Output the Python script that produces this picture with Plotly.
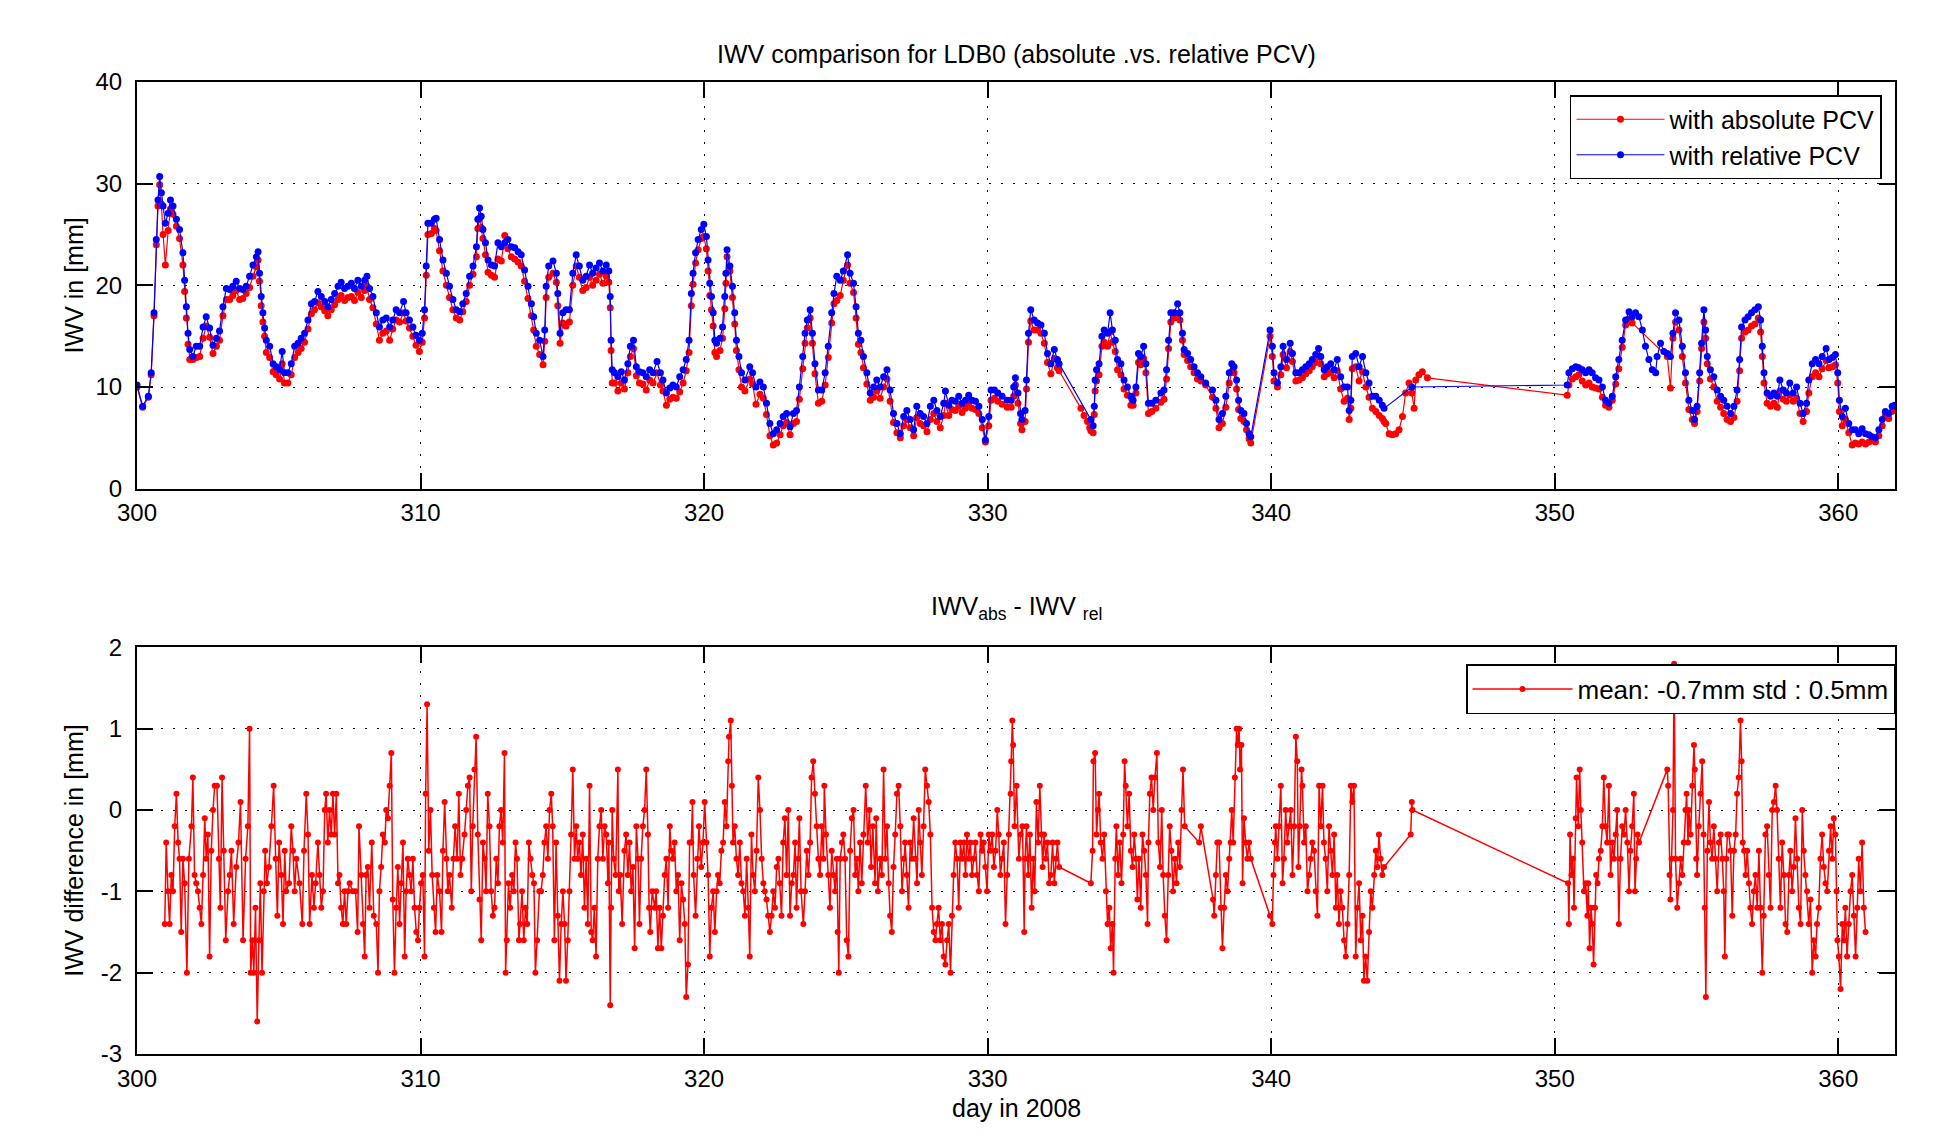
import plotly.graph_objects as go

# ---------------- top panel: IWV time series (day of year 2008) ----------------
day = [
    300.0, 300.2, 300.4, 300.5, 300.6, 300.68, 300.74, 300.8, 300.86, 300.92,
    301.0, 301.1, 301.18, 301.27, 301.39, 301.5, 301.62, 301.68, 301.74, 301.8,
    301.86, 301.97, 302.09, 302.21, 302.33, 302.44, 302.56, 302.68, 302.8, 302.91,
    303.03, 303.15, 303.27, 303.38, 303.5, 303.62, 303.73, 303.85, 303.97, 304.09,
    304.21, 304.27, 304.32, 304.38, 304.44, 304.5, 304.56, 304.68, 304.8, 304.91,
    305.03, 305.12, 305.2, 305.32, 305.44, 305.56, 305.68, 305.79, 305.91, 306.03,
    306.15, 306.26, 306.38, 306.5, 306.62, 306.73, 306.85, 306.97, 307.09, 307.2,
    307.32, 307.44, 307.56, 307.67, 307.79, 307.91, 308.03, 308.11, 308.2, 308.32,
    308.44, 308.55, 308.67, 308.79, 308.91, 309.02, 309.14, 309.26, 309.4, 309.49,
    309.61, 309.73, 309.84, 309.96, 310.06, 310.14, 310.2, 310.26, 310.38, 310.49,
    310.55, 310.67, 310.79, 310.91, 311.02, 311.14, 311.26, 311.38, 311.49, 311.61,
    311.73, 311.85, 311.97, 312.02, 312.08, 312.14, 312.2, 312.29, 312.38, 312.5,
    312.61, 312.73, 312.85, 312.97, 313.08, 313.2, 313.32, 313.44, 313.55, 313.67,
    313.79, 313.91, 313.99, 314.08, 314.2, 314.32, 314.38, 314.43, 314.52, 314.67,
    314.79, 314.84, 314.92, 315.02, 315.13, 315.25, 315.37, 315.49, 315.6, 315.72,
    315.84, 315.96, 316.07, 316.19, 316.31, 316.43, 316.55, 316.64, 316.69, 316.72,
    316.76, 316.84, 316.96, 317.08, 317.19, 317.31, 317.4, 317.51, 317.61, 317.72,
    317.84, 317.96, 318.08, 318.2, 318.34, 318.46, 318.55, 318.67, 318.79, 318.9,
    319.02, 319.14, 319.26, 319.37, 319.47, 319.55, 319.61, 319.7, 319.79, 319.9,
    319.99, 320.08, 320.14, 320.2, 320.26, 320.32, 320.38, 320.44, 320.56, 320.65,
    320.73, 320.77, 320.81, 320.91, 321.0, 321.08, 321.14, 321.23, 321.32, 321.44,
    321.61, 321.71, 321.83, 321.97, 322.09, 322.2, 322.32, 322.44, 322.56, 322.68,
    322.79, 322.91, 323.03, 323.15, 323.26, 323.36, 323.48, 323.56, 323.64, 323.74,
    323.82, 323.91, 324.03, 324.15, 324.27, 324.38, 324.5, 324.58, 324.68, 324.8,
    324.91, 325.06, 325.15, 325.27, 325.36, 325.44, 325.53, 325.62, 325.74, 325.86,
    325.98, 326.09, 326.21, 326.33, 326.45, 326.56, 326.68, 326.8, 326.92, 327.04,
    327.15, 327.27, 327.39, 327.5, 327.62, 327.74, 327.86, 327.98, 328.1, 328.21,
    328.33, 328.45, 328.51, 328.63, 328.74, 328.86, 328.98, 329.1, 329.22, 329.33,
    329.45, 329.57, 329.69, 329.81, 329.92, 330.04, 330.12, 330.24, 330.36, 330.51,
    330.69, 330.83, 330.92, 330.98, 331.07, 331.16, 331.21, 331.32, 331.37, 331.44,
    331.52, 331.64, 331.76, 331.88, 332.0, 332.11, 332.23, 332.35, 332.46, 332.52,
    333.29, 333.4, 333.52, 333.6, 333.64, 333.72, 333.76, 333.79, 333.84, 333.93,
    334.03, 334.11, 334.23, 334.32, 334.4, 334.5, 334.58, 334.7, 334.81, 334.93,
    335.05, 335.13, 335.23, 335.32, 335.4, 335.5, 335.58, 335.67, 335.79, 335.93,
    336.11, 336.22, 336.31, 336.38, 336.46, 336.58, 336.7, 336.78, 336.87, 336.93,
    337.05, 337.16, 337.28, 337.4, 337.52, 337.69, 337.93, 338.05, 338.16, 338.28,
    338.4, 338.52, 338.61, 338.69, 338.78, 338.85, 338.93, 339.04, 339.13, 339.22,
    339.28, 339.96, 340.04, 340.1, 340.22, 340.34, 340.42, 340.54, 340.67, 340.75,
    340.87, 340.98, 341.1, 341.22, 341.34, 341.45, 341.57, 341.67, 341.75, 341.87,
    341.98, 342.1, 342.22, 342.33, 342.45, 342.57, 342.69, 342.75, 342.81, 342.86,
    342.98, 343.1, 343.22, 343.34, 343.45, 343.57, 343.69, 343.81, 343.92, 343.98,
    344.04, 344.16, 344.27, 344.39, 344.51, 344.63, 344.74, 344.86, 344.96, 345.04,
    345.1, 345.21, 345.33, 345.51, 350.44, 350.5, 350.62, 350.74, 350.85, 350.97,
    351.09, 351.21, 351.32, 351.44, 351.56, 351.68, 351.79, 351.91, 352.03, 352.15,
    352.26, 352.38, 352.5, 352.62, 352.73, 352.85, 352.97, 353.09, 353.2, 353.32,
    353.44, 353.56, 353.61, 353.73, 353.85, 353.97, 354.08, 354.17, 354.26, 354.38,
    354.5, 354.61, 354.73, 354.85, 354.93, 355.02, 355.11, 355.18, 355.26, 355.32,
    355.38, 355.49, 355.61, 355.73, 355.85, 355.96, 356.08, 356.2, 356.32, 356.43,
    356.52, 356.59, 356.71, 356.82, 356.94, 357.06, 357.18, 357.26, 357.32, 357.38,
    357.49, 357.61, 357.73, 357.85, 357.94, 358.06, 358.17, 358.29, 358.41, 358.53,
    358.65, 358.76, 358.88, 358.96, 359.08, 359.2, 359.32, 359.43, 359.57, 359.67,
    359.79, 359.9, 359.98, 360.04, 360.14, 360.25, 360.37, 360.49, 360.6, 360.72,
    360.84, 360.96, 361.08, 361.19, 361.31, 361.43, 361.55, 361.66, 361.78, 361.9,
    361.99,
]

iwv_rel = [
    10.2, 8.1, 9.1, 11.4, 17.3, 24.5, 28.4, 30.7, 29.1, 27.8,
    26.1, 27.1, 28.4, 27.8, 26.5, 25.5, 23.2, 20.5, 17.9, 15.3,
    13.7, 13.0, 14.0, 14.0, 15.9, 16.9, 15.8, 14.1, 14.8, 15.5,
    17.9, 19.7, 19.6, 19.9, 20.4, 19.7, 19.6, 19.9, 20.9, 22.0,
    22.8, 23.3, 21.2, 18.9, 17.3, 15.8, 14.6, 14.0, 12.3, 12.0,
    11.7, 13.5, 11.4, 11.4, 12.3, 14.0, 14.3, 14.8, 15.3, 16.6,
    18.2, 18.4, 19.4, 18.9, 18.4, 17.9, 18.6, 19.2, 19.9, 20.3,
    19.7, 19.9, 20.2, 19.7, 20.5, 19.9, 20.5, 20.9, 19.7, 18.9,
    17.3, 15.9, 16.6, 16.8, 15.9, 16.6, 17.6, 17.3, 18.4, 17.3,
    16.6, 15.9, 15.1, 14.6, 15.3, 17.6, 21.9, 26.1, 26.1, 26.5,
    26.6, 24.5, 22.5, 21.2, 19.9, 18.6, 17.6, 17.4, 18.2, 19.2,
    20.9, 21.9, 23.8, 26.5, 27.6, 26.8, 25.5, 24.2, 22.5, 22.0,
    21.9, 24.2, 23.8, 24.2, 24.5, 23.8, 23.7, 23.3, 23.0, 21.5,
    19.9, 18.2, 16.9, 15.3, 14.6, 13.0, 15.6, 19.9, 21.9, 22.4,
    21.2, 19.2, 15.3, 17.3, 17.6, 17.6, 21.2, 23.0, 21.9, 20.5,
    20.9, 22.0, 21.2, 21.7, 22.2, 21.4, 22.0, 21.4, 18.9, 14.6,
    11.7, 11.4, 11.0, 11.5, 10.7, 12.3, 14.0, 14.6, 12.0, 11.5,
    11.4, 11.0, 11.7, 11.4, 12.5, 11.4, 10.7, 9.4, 9.9, 10.2,
    10.0, 11.0, 11.7, 12.7, 14.6, 19.2, 21.2, 23.2, 24.5, 25.5,
    26.0, 24.8, 22.5, 20.2, 18.9, 17.3, 14.6, 14.3, 14.8, 15.9,
    18.9, 21.2, 23.5, 21.9, 19.9, 17.3, 14.6, 13.0, 11.4, 10.7,
    12.0, 11.4, 10.0, 10.5, 10.0, 8.4, 6.4, 5.4, 5.8, 6.4,
    7.1, 7.4, 6.1, 7.4, 7.7, 10.0, 13.0, 15.3, 16.6, 17.6,
    15.3, 12.3, 9.7, 9.7, 11.4, 14.0, 17.3, 19.2, 20.9, 20.5,
    21.4, 23.0, 21.2, 20.2, 17.9, 15.3, 14.6, 13.0, 11.4, 9.4,
    10.0, 10.7, 10.0, 11.0, 11.7, 9.7, 7.4, 6.4, 5.4, 7.1,
    7.7, 6.8, 5.8, 8.1, 7.4, 7.1, 6.4, 8.1, 8.7, 7.7,
    7.1, 8.4, 9.6, 8.2, 8.7, 8.6, 9.1, 8.4, 8.7, 9.2,
    8.7, 8.6, 8.1, 6.8, 4.8, 7.1, 9.7, 9.7, 9.4, 9.1,
    8.7, 8.7, 10.0, 10.9, 9.4, 7.4, 6.8, 7.7, 10.7, 15.3,
    17.6, 16.6, 16.3, 16.1, 15.3, 13.3, 12.3, 13.7, 12.7, 12.3,
    None, None, None, None, 6.8, 6.2, 8.1, 10.7, 11.7, 12.3,
    15.0, 15.6, 15.3, 17.3, 15.6, 14.6, 12.7, 12.3, 10.7, 10.0,
    9.1, 8.7, 10.0, 13.3, 13.0, 14.0, 12.3, 8.4, 8.4, 8.7,
    9.4, 9.7, 11.7, 14.6, 17.3, 17.3, 18.2, 17.3, 15.3, 13.7,
    13.3, 12.7, 12.0, 11.4, 11.0, 10.4, 9.7, 8.7, 6.8, 7.4,
    9.1, 11.4, 12.3, 12.0, 10.7, 8.7, 7.7, 7.4, 6.4, 5.4,
    5.1, 15.6, 14.0, 11.4, 10.4, 12.0, 14.0, 12.7, 14.3, 13.3,
    11.4, 11.4, 11.7, 12.0, 12.3, 12.7, 13.2, 13.8, 13.0, 11.7,
    12.0, 12.3, 11.7, 12.7, 11.0, 10.0, 10.0, 7.7, 8.7, 13.0,
    13.3, 12.0, 13.0, 11.4, 10.4, 9.1, 9.1, 8.7, 8.2, 7.9,
    None, None, None, None, None, None, None, None, 10.0, None,
    None, None, None, None, 10.2, 11.4, 11.8, 12.0, 11.9, 11.7,
    11.4, 11.7, 11.4, 10.9, 10.7, 10.0, 8.7, 8.4, 9.1, 11.0,
    12.7, 14.6, 16.6, 17.4, 16.9, 17.3, 16.9, 15.6, 14.0, 12.7,
    11.7, 11.4, 13.0, 14.3, 13.5, 13.3, 13.0, 15.3, 17.3, 16.6,
    14.0, 11.4, 8.7, 7.7, 6.8, 8.1, 11.4, 14.3, 17.6, 15.6,
    13.0, 11.7, 11.0, 9.7, 9.1, 8.7, 8.1, 7.4, 8.1, 9.7,
    12.7, 15.9, 16.6, 16.9, 17.3, 17.6, 17.9, 16.6, 14.0, 11.4,
    9.4, 9.1, 9.4, 9.1, 10.7, 9.7, 9.4, 10.4, 9.4, 10.0,
    8.4, 7.4, 8.4, 10.7, 12.3, 12.7, 12.3, 13.0, 13.8, 12.7,
    12.9, 13.2, 11.4, 8.7, 7.1, 7.9, 6.4, 5.8, 5.8, 5.4,
    5.9, 5.4, 5.3, 5.1, 5.0, 5.8, 6.8, 7.6, 7.4, 8.1,
    8.2,
]

iwv_abs = [
    10.0, 8.0, 9.0, 11.2, 17.0, 24.0, 27.8, 29.9, 28.0, 25.0,
    22.0, 25.4, 27.5, 27.0, 25.8, 24.6, 22.0, 19.4, 16.8, 14.2,
    12.7, 12.7, 12.9, 13.0, 14.8, 16.0, 14.9, 13.3, 14.0, 14.6,
    17.0, 18.6, 18.6, 19.0, 19.5, 18.6, 18.7, 19.2, 19.8, 20.9,
    21.8, 22.5, 20.4, 18.0, 16.4, 15.0, 13.4, 12.9, 11.5, 11.2,
    10.8, 12.3, 10.4, 10.4, 11.2, 12.9, 13.4, 13.8, 14.4, 15.7,
    17.2, 17.6, 18.3, 17.9, 17.5, 17.0, 17.6, 18.1, 18.6, 19.0,
    18.5, 18.8, 18.9, 18.5, 19.3, 18.8, 19.5, 19.9, 18.6, 17.8,
    16.2, 14.6, 15.3, 15.5, 14.6, 15.7, 16.6, 16.4, 17.3, 16.5,
    15.8, 15.0, 14.1, 13.5, 14.4, 16.8, 21.0, 25.0, 25.1, 25.6,
    25.4, 23.4, 21.4, 20.0, 18.8, 17.6, 16.8, 16.6, 17.4, 18.4,
    20.0, 21.1, 22.8, 25.6, 26.6, 25.7, 24.6, 23.0, 21.3, 21.0,
    20.8, 22.6, 22.4, 24.9, 23.6, 22.8, 22.6, 22.3, 21.9, 20.4,
    18.7, 17.0, 15.6, 14.0, 13.2, 12.2, 14.5, 18.8, 20.8, 21.2,
    20.3, 18.0, 14.3, 16.3, 16.0, 16.4, 20.0, 21.9, 20.8, 19.5,
    19.8, 20.8, 20.0, 20.5, 21.1, 20.2, 20.9, 20.3, 17.8, 13.6,
    10.4, 10.4, 9.6, 10.4, 9.8, 11.4, 13.0, 13.8, 11.1, 10.4,
    10.3, 9.7, 10.7, 10.4, 11.4, 10.2, 9.6, 8.2, 8.8, 9.0,
    8.9, 9.5, 10.4, 11.6, 13.4, 18.0, 20.1, 22.2, 23.5, 24.6,
    24.8, 23.6, 21.4, 19.0, 17.6, 16.0, 13.4, 13.0, 13.6, 14.8,
    17.7, 20.2, 22.8, 21.4, 18.8, 16.2, 13.6, 11.7, 10.0, 9.6,
    10.8, 10.3, 8.3, 9.3, 8.9, 7.3, 5.2, 4.3, 4.5, 5.3,
    6.2, 6.5, 5.3, 6.4, 6.6, 8.8, 11.8, 14.3, 15.8, 16.8,
    14.3, 11.3, 8.4, 8.6, 10.2, 12.9, 16.3, 18.2, 18.5, 19.0,
    20.5, 22.0, 20.2, 19.3, 16.8, 14.2, 13.4, 11.9, 10.3, 8.7,
    9.0, 9.6, 8.9, 10.0, 10.8, 8.6, 6.5, 5.5, 5.0, 6.2,
    6.8, 6.0, 5.2, 7.0, 6.4, 6.2, 5.6, 6.8, 7.4, 6.6,
    6.0, 7.2, 8.4, 7.2, 7.8, 7.7, 8.1, 7.5, 7.9, 8.4,
    7.9, 7.8, 7.4, 6.0, 4.6, 6.2, 8.7, 8.9, 8.6, 8.3,
    8.0, 8.0, 9.1, 10.2, 8.4, 6.4, 5.8, 6.6, 9.8, 14.4,
    16.5, 15.6, 15.6, 15.3, 14.3, 12.4, 11.3, 12.8, 11.9, 11.6,
    7.9, 7.2, 6.6, 6.0, 5.7, 5.5, 7.3, 9.6, 10.6, 11.2,
    14.0, 14.4, 14.0, 15.4, 14.4, 13.5, 11.7, 11.2, 9.8, 9.2,
    8.2, 8.2, 9.4, 12.4, 12.2, 12.8, 11.4, 7.4, 7.6, 7.9,
    8.5, 8.8, 10.8, 13.8, 16.4, 16.8, 17.2, 16.6, 14.6, 13.2,
    12.6, 12.0, 11.4, 10.8, 10.6, 10.2, 9.0, 7.9, 6.0, 6.4,
    8.0, 10.4, 11.5, 11.4, 9.8, 7.8, 6.9, 6.6, 5.8, 4.9,
    4.5, 15.0, 13.0, 10.6, 10.0, 11.2, 13.2, 11.9, 13.5, 12.5,
    10.6, 10.7, 10.9, 11.3, 11.6, 12.0, 12.4, 13.0, 12.3, 11.0,
    11.3, 11.4, 10.9, 11.6, 9.8, 8.6, 8.9, 6.8, 7.9, 11.8,
    12.0, 10.6, 11.5, 10.0, 9.0, 7.9, 7.6, 7.2, 6.9, 6.6,
    6.4, 5.4, 5.3, 5.4, 5.8, 7.1, 9.4, 10.4, 9.4, 7.9,
    10.7, 11.2, 11.5, 10.9, 9.2, 10.2, 10.8, 11.0, 11.2, 10.6,
    10.2, 10.4, 10.0, 9.9, 9.8, 9.0, 8.2, 8.0, 8.7, 10.3,
    11.8, 13.9, 16.1, 16.7, 16.3, None, None, None, None, None,
    None, None, None, None, None, 13.0, 9.9, 14.8, 16.4, 15.6,
    13.0, 10.4, 7.8, 6.8, 6.4, 7.6, 10.6, 13.8, 16.4, 14.8,
    12.3, 10.8, 10.0, 8.6, 8.0, 7.4, 6.8, 6.6, 7.0, 8.6,
    11.6, 14.8, 15.4, 15.6, 16.0, 16.2, 16.8, 15.4, 13.0, 10.4,
    8.4, 8.1, 8.4, 8.0, 9.6, 8.8, 8.6, 9.2, 8.6, 8.9,
    7.4, 6.6, 7.6, 9.4, 11.0, 11.4, 11.0, 11.8, 12.6, 11.9,
    12.0, 12.2, 10.4, 7.6, 6.2, 6.8, 5.5, 4.3, 4.5, 4.4,
    4.6, 4.4, 4.6, 4.8, 4.6, 5.2, 6.2, 7.2, 6.9, 7.6,
    7.9,
]

# ---------------- bottom panel: IWV_abs - IWV_rel ----------------
diff_day = [
    300.98, 301.03, 301.09, 301.15, 301.21, 301.27, 301.33, 301.39, 301.45, 301.50,
    301.56, 301.62, 301.68, 301.76, 301.83, 301.92, 301.97, 302.03, 302.09, 302.15,
    302.21, 302.27, 302.33, 302.39, 302.44, 302.50, 302.56, 302.62, 302.68, 302.74,
    302.82, 302.89, 302.94, 303.00, 303.06, 303.13, 303.21, 303.27, 303.33, 303.41,
    303.50, 303.58, 303.65, 303.74, 303.83, 303.91, 303.97, 304.01, 304.07, 304.12,
    304.18, 304.24, 304.30, 304.35, 304.41, 304.47, 304.52, 304.58, 304.65, 304.74,
    304.82, 304.89, 304.95, 305.01, 305.09, 305.15, 305.21, 305.26, 305.36, 305.44,
    305.50, 305.56, 305.62, 305.73, 305.83, 305.89, 305.97, 306.03, 306.09, 306.17,
    306.24, 306.30, 306.38, 306.44, 306.50, 306.56, 306.62, 306.67, 306.73, 306.79,
    306.85, 306.91, 306.97, 307.03, 307.09, 307.14, 307.20, 307.26, 307.32, 307.38,
    307.44, 307.50, 307.61, 307.71, 307.78, 307.83, 307.91, 307.97, 308.03, 308.08,
    308.14, 308.20, 308.28, 308.35, 308.44, 308.50, 308.55, 308.61, 308.67, 308.74,
    308.79, 308.85, 308.91, 308.97, 309.02, 309.08, 309.14, 309.20, 309.26, 309.32,
    309.38, 309.44, 309.49, 309.55, 309.61, 309.67, 309.73, 309.79, 309.85, 309.91,
    309.96, 310.02, 310.08, 310.14, 310.18, 310.23, 310.29, 310.35, 310.41, 310.47,
    310.53, 310.59, 310.67, 310.74, 310.79, 310.85, 310.91, 310.96, 311.02, 311.10,
    311.16, 311.22, 311.29, 311.35, 311.41, 311.47, 311.55, 311.61, 311.67, 311.73,
    311.79, 311.84, 311.90, 311.96, 312.02, 312.08, 312.14, 312.20, 312.26, 312.31,
    312.37, 312.43, 312.49, 312.55, 312.61, 312.67, 312.73, 312.78, 312.84, 312.90,
    312.96, 313.00, 313.04, 313.10, 313.16, 313.23, 313.29, 313.35, 313.40, 313.47,
    313.51, 313.58, 313.64, 313.70, 313.76, 313.82, 313.88, 313.94, 314.00, 314.05,
    314.11, 314.19, 314.25, 314.31, 314.37, 314.43, 314.49, 314.55, 314.61, 314.66,
    314.72, 314.78, 314.84, 314.90, 314.96, 315.02, 315.08, 315.13, 315.19,
    315.25, 315.31, 315.37, 315.43, 315.49, 315.54, 315.60, 315.66, 315.72, 315.78,
    315.84, 315.90, 315.96, 316.02, 316.07, 316.13, 316.19, 316.25, 316.31, 316.37,
    316.43, 316.49, 316.55, 316.61, 316.64, 316.69, 316.72, 316.76, 316.81, 316.88,
    316.96, 316.99, 317.04, 317.11, 317.19, 317.25, 317.31, 317.37, 317.43, 317.49,
    317.55, 317.61, 317.67, 317.72, 317.78, 317.84, 317.90, 317.96, 318.02, 318.06,
    318.10, 318.17, 318.26, 318.31, 318.37, 318.43, 318.49, 318.55, 318.61, 318.67,
    318.73, 318.79, 318.84, 318.90, 318.96, 319.02, 319.08, 319.14, 319.20, 319.26,
    319.32, 319.37, 319.43, 319.49, 319.55, 319.59, 319.63, 319.70, 319.76, 319.82,
    319.90, 319.96, 320.02, 320.08, 320.14, 320.20, 320.26, 320.32, 320.38, 320.44,
    320.49, 320.55, 320.61, 320.67, 320.73, 320.79, 320.85, 320.88, 320.94, 320.98,
    321.02, 321.08, 321.14, 321.20, 321.26, 321.32, 321.38, 321.44, 321.50, 321.56,
    321.61, 321.67, 321.73, 321.79, 321.85, 321.91, 321.97, 322.03, 322.09, 322.14,
    322.20, 322.26, 322.32, 322.38, 322.44, 322.50, 322.56, 322.62, 322.67, 322.73,
    322.79, 322.85, 322.91, 322.97, 323.03, 323.09, 323.15, 323.21, 323.26, 323.32,
    323.36, 323.42, 323.50, 323.56, 323.62, 323.68, 323.74, 323.79, 323.85, 323.91,
    323.97, 324.03, 324.09, 324.15, 324.21, 324.24, 324.30, 324.38, 324.44, 324.50,
    324.56, 324.62, 324.68, 324.71, 324.75, 324.80, 324.86, 324.91, 324.97, 325.03,
    325.09, 325.15, 325.21, 325.27, 325.33, 325.39, 325.44, 325.50, 325.56, 325.62,
    325.70, 325.77, 325.83, 325.89, 325.95, 326.03, 326.07, 326.13, 326.21, 326.27,
    326.33, 326.39, 326.45, 326.51, 326.56, 326.62, 326.68, 326.74, 326.80, 326.86,
    326.92, 326.98, 327.04, 327.09, 327.15, 327.21, 327.27, 327.33, 327.39, 327.45,
    327.51, 327.57, 327.62, 327.68, 327.74, 327.80, 327.86, 327.92, 327.98, 328.04,
    328.10, 328.16, 328.21, 328.27, 328.33, 328.39, 328.45, 328.51, 328.57, 328.63,
    328.69, 328.74, 328.80, 328.86, 328.92, 328.98, 329.04, 329.10, 329.16, 329.22,
    329.27, 329.33, 329.39, 329.45, 329.51, 329.57, 329.63, 329.69, 329.75, 329.81,
    329.86, 329.92, 329.98, 330.04, 330.10, 330.16, 330.22, 330.28, 330.34, 330.39,
    330.45, 330.51, 330.57, 330.63, 330.69, 330.75, 330.81, 330.83, 330.87, 330.90,
    330.95, 331.02, 331.10, 331.16,
    331.23, 331.29, 331.32, 331.37, 331.43, 331.49, 331.55, 331.61, 331.66, 331.72,
    331.78, 331.84, 331.90, 331.94, 331.99, 332.05, 332.11, 332.17, 332.23, 332.29,
    332.35, 332.41, 332.46, 332.52, 333.64, 333.70, 333.73, 333.79, 333.84, 333.89,
    333.93, 333.99, 334.05, 334.11, 334.17, 334.23, 334.29, 334.34, 334.40, 334.44,
    334.50, 334.54, 334.60, 334.66, 334.72, 334.78, 334.83, 334.87, 334.93, 334.99,
    335.05, 335.11, 335.17, 335.23, 335.28, 335.34, 335.40, 335.46, 335.52, 335.58,
    335.64, 335.67, 335.72, 335.78, 335.84, 335.90, 335.97, 336.02, 336.08, 336.14,
    336.19, 336.25, 336.31, 336.37, 336.42, 336.48, 336.54, 336.60, 336.66, 336.72,
    336.78, 336.84, 336.89, 336.95, 337.46, 337.52, 337.95, 337.99, 338.05, 338.10,
    338.16, 338.22, 338.28, 338.34, 338.40, 338.46, 338.52, 338.57, 338.61, 338.66,
    338.72, 338.78, 338.82, 338.87, 338.90, 338.95, 338.99, 339.04, 339.10, 339.16,
    339.22, 339.28, 339.96, 340.04, 340.08, 340.13, 340.16, 340.22, 340.28, 340.34,
    340.40, 340.45, 340.51, 340.57, 340.63, 340.69, 340.75, 340.81, 340.87, 340.92,
    340.96, 341.01, 341.07, 341.10, 341.16, 341.22, 341.28, 341.34, 341.39, 341.45,
    341.51, 341.57, 341.63, 341.69, 341.75, 341.81, 341.86, 341.92, 341.98, 342.04,
    342.10, 342.16, 342.22, 342.28, 342.33, 342.39, 342.45, 342.51, 342.57, 342.63,
    342.69, 342.75, 342.81, 342.86, 342.92, 342.98, 343.04, 343.10, 343.16, 343.22,
    343.27, 343.33, 343.39, 343.45, 343.51, 343.57, 343.63, 343.69, 343.75, 343.80,
    343.86, 343.92, 343.98, 344.92, 344.96, 344.98,
    350.47, 350.50, 350.54, 350.59, 350.64, 350.68, 350.74, 350.77, 350.83, 350.88,
    350.92, 350.97, 351.03, 351.09, 351.15, 351.18, 351.23, 351.28, 351.32, 351.37,
    351.42, 351.46, 351.51, 351.56, 351.62, 351.68, 351.73, 351.79, 351.85, 351.91,
    351.97, 352.03, 352.09, 352.15, 352.20, 352.26, 352.32, 352.38, 352.44, 352.50,
    352.56, 352.62, 352.67, 352.73, 352.79, 352.83, 352.87, 352.92, 352.97, 353.97,
    354.00, 354.05, 354.08, 354.12, 354.17, 354.21, 354.26, 354.32, 354.38, 354.44,
    354.50, 354.55, 354.61, 354.65, 354.70, 354.73, 354.79, 354.85, 354.91, 354.94,
    354.99, 355.02, 355.08, 355.14, 355.20, 355.25, 355.29, 355.33, 355.38, 355.44,
    355.49, 355.55, 355.61, 355.67, 355.73, 355.79, 355.85, 355.91, 355.96, 356.00,
    356.05, 356.09, 356.14, 356.20, 356.26, 356.32, 356.38, 356.43, 356.49, 356.55,
    356.59, 356.63, 356.68, 356.73, 356.79, 356.85, 356.90, 356.96, 357.02, 357.08,
    357.14, 357.20, 357.26, 357.32, 357.37, 357.43, 357.49, 357.55, 357.61, 357.67,
    357.73, 357.79, 357.84, 357.90, 357.96, 358.02, 358.08, 358.14, 358.20, 358.26,
    358.31, 358.37, 358.43, 358.49, 358.55, 358.61, 358.67, 358.73, 358.78, 358.84,
    358.90, 358.96, 359.02, 359.08, 359.14, 359.20, 359.25, 359.31, 359.37, 359.43,
    359.49, 359.55, 359.61, 359.67, 359.73, 359.79, 359.84, 359.90, 359.94, 359.97,
    360.02, 360.08, 360.14, 360.20, 360.25, 360.31, 360.37, 360.43, 360.49, 360.55,
    360.61, 360.67, 360.72, 360.78, 360.84, 360.90, 360.96,
]

diff_mm = [
    -1.4, -0.4, -1.0, -1.4, -0.8, -1.0, -0.2, 0.2, -0.4, -0.6,
    -1.5, -0.6, -0.9, -2.0, -0.6, -0.2, 0.4, -0.8, -0.9, -1.0,
    -1.2, -1.4, -0.8, -0.1, -0.6, -0.3, -1.8, -0.5, 0.0, 0.3,
    0.3, -0.6, -1.2, 0.4, -0.5, -1.6, -1.0, -0.8, -0.5, -1.4,
    -0.7, -0.4, 0.1, -1.6, -0.6, -0.2, 1.0, -2.0, -1.6, -2.0,
    -1.2, -2.6, -1.6, -0.9, -2.0, -1.0, -0.5, -0.9, -0.7, -0.2,
    0.3, -0.6, -1.3, -0.4, -0.8, -1.4, -0.5, -1.0, -0.9, -0.2,
    -0.5, -1.0, -0.6, -0.9, -1.4, -0.5, 0.2, -0.3, -1.4, -0.8,
    -1.2, -0.9, -0.4, -0.8, -1.2, -1.0, 0.0, 0.2, -0.4, 0.0,
    -0.3, 0.2, -0.3, 0.2, -0.9, -0.8, -1.2, -1.4, -1.0, -1.4,
    -1.0, -0.9, -1.0, -1.0, -1.5, -0.2, -0.8, -1.4, -1.8, -0.8,
    -0.7, -1.2, -0.4, -1.3, -1.4, -2.0, -1.0, -0.7, -0.3, -0.4,
    0.0, -0.1, 0.3, 0.7, -1.1, -2.0, -1.2, -0.7, -1.4, -0.9,
    -0.4, -1.8, -1.0, -0.6, -0.8, -1.0, -0.6, -1.2, -1.5, -1.6,
    -1.2, -0.9, -0.8, -1.8, 0.2, 1.3, -0.5, 0.0, -0.8, -1.2,
    -1.5, -0.8, -1.0, -1.5, -0.5, 0.1, -0.6, -1.0, -0.8, -1.2,
    -0.6, -0.2, -0.6, 0.2, -0.8, -0.6, -0.3, 0.0, 0.3, 0.4,
    -1.0, -0.2, 0.5, 0.9, -0.3, -1.1, -1.6, -0.4, -0.6, -1.0,
    0.2, -0.2, -1.0, -1.3, -1.2, -0.6, -0.9, -0.2, 0.0, -0.4,
    0.7, -2.0, -1.6, -0.9, -1.2, -0.8, -1.0, -0.4, -0.6, -1.6,
    -1.4, -1.0, -1.6, -1.2, -1.4, -0.4, -0.6, -0.8, -0.9, -2.0,
    -1.6, -1.0, -1.0, -0.8, -0.4, -0.2, -0.6, 0.0, 0.2, -0.2,
    -1.6, -0.4, -1.3, -2.1, -1.4, -1.0, -1.4, -2.1, -1.6,
    -1.0, -0.3, 0.5, -0.6, -0.2, -0.6, -0.4, -0.8, -0.3, -1.2,
    -0.6, -1.4, 0.3, -1.5, -1.6, -1.2, -1.8, -0.6, -0.2, 0.0,
    -0.6, -0.2, -0.3, -0.9, -0.4, -2.4, -1.2, 0.0, -0.6, -0.8,
    0.5, -1.0, -0.8, -1.4, -0.5, -0.3, -0.8, -0.4, -1.0, -0.7,
    -1.7, -0.2, -0.6, -1.4, -0.6, -0.2, 0.0, 0.5, -0.3, -1.2,
    -1.5, -1.0, -1.2, -1.0, -1.7, -1.2, -1.7, -1.3, -0.8, -0.6,
    -1.2, -0.2, -0.5, -0.6, -0.4, -1.0, -0.8, -1.6, -0.9, -1.1,
    -1.4, -2.3, -1.9, -0.4, -0.4, 0.1, -0.8, -1.3, -0.6, -0.2,
    -0.7, -0.4, 0.1, -0.4, -0.8, -1.8, -1.2, -1.0, -1.5, -1.0,
    -0.8, -0.9, -0.5, -0.4, 0.1, -0.2, 0.6, 0.9, 1.1, 0.3,
    -0.4, -0.2, -0.6, -0.8, -0.4, -0.9, -1.0, -1.3, -0.6, -1.2,
    -1.8, -0.3, -0.8, -1.0, -0.5, 0.4, 0.0, -0.6, -0.9, -1.0,
    -1.1, -1.3, -1.5, -1.3, -1.0, -1.2, -0.7, -0.6, -0.9, -1.3,
    -0.4, -0.1, -0.8, 0.0, -1.3, -0.9, -0.8, -0.4, -1.2, -0.6,
    -0.1, -1.0, -1.4, -1.0, -0.5, -0.8, -0.4, 0.4, 0.6, 0.2,
    -0.2, -0.6, -0.8, -0.2, -0.6, 0.3, -0.3, -0.8, -1.2, -0.5,
    -0.8, -1.0, -0.6, -1.5, -2.0, -0.6, -0.4, -0.3, -0.6, -1.6,
    -1.8, -0.5, -0.1, 0.0, -0.8, -0.6, -1.0, -0.4, -0.9, -0.3,
    0.3, -0.4, 0.0, -0.7, -0.2, -0.9, -0.1, -1.0, -0.6, -0.8,
    0.5, -0.6, -0.2, -0.9, -1.3, -1.5, -0.7, -0.3, 0.2, 0.3,
    -0.2, -1.0, -0.6, -0.4, -0.8, -1.2, -0.4, -0.6, -0.1, -0.6,
    -0.9, 0.0, -0.4, -0.8, -0.2, 0.5, 0.3, 0.1, -0.3, -1.2,
    -1.5, -1.6, -1.4, -1.2, -1.6, -1.4, -1.8, -1.9, -1.6, -1.4,
    -2.0, -1.3, -0.8, -0.4, -0.6, -1.2, -0.4, -0.6, -0.4, -0.8,
    -0.3, -0.6, -0.4, -0.8, -0.6, -0.4, -0.8, -1.0, -0.3, -0.5,
    -0.4, -0.7, -1.0, -0.3, -0.5, -0.3, -0.7, -0.5, 0.0, -0.3,
    -0.8, -0.6, -0.4, -1.4, -0.8, -0.3, 0.2, 0.6, 1.1, 0.8,
    -0.2, 0.3, -0.6, -0.3,
    -0.2, -1.5, -0.6, -0.2, -0.8, -0.3, -1.2, -0.6, -1.0, 0.1,
    -0.4, 0.3, -0.3, -0.7, -0.3, -0.6, -0.4, -0.9, -0.8, -0.4,
    -0.9, -0.6, -0.4, -0.7, -0.9, -0.5, 0.6, 0.7, -0.3, 0.0,
    0.2, -0.4, -0.6, -0.3, -1.0, -1.4, -1.2, -1.7, -1.4, -2.0,
    -0.6, -0.2, -0.8, -0.4, -0.9, -0.3, 0.6, 0.3, -0.2, 0.2,
    -0.5, -0.7, -0.3, -0.6, -1.1, -0.6, -1.2, -0.3, -0.5, -0.8,
    -1.4, -0.4, 0.2, 0.4, 0.0, 0.4, 0.7, -0.4, -0.7, 0.0,
    -0.8, -1.3, -1.6, -0.8, -0.2, -0.5, -1.0, -0.6, -0.9, -0.4,
    -0.7, 0.0, 0.5, -0.2, -0.4, -0.2, -1.1, -1.3, -0.8, -0.4,
    -0.4, -1.2, -1.7, -1.2, -0.8, -1.0, -0.6, -0.4, 0.0, -0.4,
    0.4, 1.0, 0.8, 1.0, 0.5, 0.8, -0.9, -0.1, -0.4, -0.6,
    -0.4, -0.6, -1.3, -1.4, -0.8, -0.4, -0.2, -0.6, -0.2, 0.3,
    -0.9, -0.6, 0.0, -0.4, -0.2, 0.0, -0.8, -0.2, 0.9, 0.6,
    -0.7, -0.2, 0.5, 0.3, -0.4, -0.2, -1.0, -0.8, -0.6, -0.4,
    -0.5, -1.0, -1.3, 0.3, -0.2, 0.3, -0.4, -0.6, -1.0, -0.2,
    -0.5, -0.8, -0.3, -1.2, -0.8, -1.4, -1.0, -1.2, -1.6, -1.8,
    -1.4, -0.8, 0.3, 0.1, 0.3, -1.8, -1.2, -0.9, -1.6, -1.3,
    -2.1, -1.8, -2.1, -1.5, -1.0, -1.2, -0.8, -0.5, -0.7, -0.3,
    -0.6, -0.8, -0.7, -0.3, 0.1, 0.0,
    -0.9, -1.4, -0.3, -0.8, -0.6, -1.2, -0.1, 0.4, -0.2, 0.5,
    0.0, -0.4, -1.0, -0.9, -1.3, -0.9, -1.7, -1.2, -1.4, -1.9,
    -1.2, -0.8, -0.9, -0.6, -0.5, -0.2, 0.4, -0.2, -0.4, 0.3,
    -0.8, -0.4, -0.6, -0.3, 0.0, -1.4, -0.6, -0.2, -0.3, 0.0,
    -0.4, -1.0, -0.5, -0.2, 0.2, -1.0, -0.6, -0.3, -0.4, 0.5,
    0.3, -0.8, -1.1, -0.6, 0.0, 1.8, -0.6, -1.2, -0.9, -0.6,
    -0.8, -0.4, 0.0, 0.2, -0.4, 0.0, -0.3, 0.3, 0.8, 0.5,
    -0.6, -0.8, -0.2, 0.2, 0.6, -0.3, -1.2, -2.3, -0.5, 0.1,
    -0.4, -0.6, -0.2, -0.6, -1.0, -0.4, -0.3, -0.6, -1.0, -1.8,
    -0.6, -0.3, -0.3, -0.5, -1.3, -0.5, -0.3, 0.2, 0.4, 1.1,
    0.6, -0.4, -0.5, -0.8, -0.5, -0.9, -1.2, -1.4, -1.0, -0.8,
    -1.2, -0.5, -1.2, -2.0, -1.3, -0.3, -0.2, -0.8, -1.2, 0.0,
    0.1, 0.3, 0.0, -0.6, -1.2, -0.4, -0.8, -1.4, -1.5, -0.8,
    -0.5, -1.0, -0.7, -0.1, -0.6, -1.2, -1.4, 0.0, -0.5, -0.8,
    -1.0, -1.4, -1.1, -2.0, -1.6, -1.8, -1.4, -1.2, -0.6, -0.3,
    -0.7, -0.9, -1.0, -0.5, -0.2, -0.6, -0.1, -0.3, -1.0, -1.6,
    -1.8, -2.2, -1.4, -1.6, -1.2, -1.8, -1.4, -1.0, -0.8, -1.3,
    -1.8, -1.2, -0.6, -1.0, -0.4, -1.2, -1.5,
]

x_ticks = [300, 310, 320, 330, 340, 350, 360]
top_y_ticks = [0, 10, 20, 30, 40]
bottom_y_ticks = [-3, -2, -1, 0, 1, 2]
bottom_y_labels = ["-3", "-2", "-1", "0", "1", "2"]

assert len(day) == len(iwv_rel) == len(iwv_abs), (len(day), len(iwv_rel), len(iwv_abs))
assert len(diff_day) == len(diff_mm), (len(diff_day), len(diff_mm))

RED = "#ff0000"
BLUE = "#0000ff"
FONT = "Liberation Sans, Arial, Helvetica, sans-serif"

fig = go.Figure()
fig.add_trace(go.Scatter(
    x=day, y=iwv_abs, mode="lines+markers", name="with absolute PCV",
    line=dict(color=RED, width=1.2), marker=dict(color=RED, size=7),
    connectgaps=True, xaxis="x", yaxis="y", legend="legend",
))
fig.add_trace(go.Scatter(
    x=day, y=iwv_rel, mode="lines+markers", name="with relative PCV",
    line=dict(color=BLUE, width=1.2), marker=dict(color=BLUE, size=7),
    connectgaps=True, xaxis="x", yaxis="y", legend="legend",
))
fig.add_trace(go.Scatter(
    x=diff_day, y=diff_mm, mode="lines+markers", name="mean: -0.7mm std : 0.5mm",
    line=dict(color=RED, width=1.5), marker=dict(color=RED, size=6),
    xaxis="x2", yaxis="y2", legend="legend2",
))

axis_common = dict(
    showline=True, linecolor="black", linewidth=2, mirror="ticks",
    ticks="inside", ticklen=16, tickwidth=2, tickcolor="black",
    showgrid=True, gridcolor="black", gridwidth=1, griddash="2px,10px",
    zeroline=False, tickfont=dict(family=FONT, size=24, color="black"),
    automargin=False,
)

# the page body adds an 8 px margin, so the figure is 16 px smaller than the window
fig.update_layout(
    width=1917, height=1127,
    margin=dict(l=129, r=30, t=74, b=81),
    paper_bgcolor="white", plot_bgcolor="white",
    font=dict(family=FONT, color="black"),
    showlegend=True,
    xaxis=dict(domain=[0, 1], range=[300, 362], tickvals=x_ticks, anchor="y",
               ticklabelstandoff=2, **axis_common),
    yaxis=dict(domain=[0.5816, 1.0], range=[0, 40], tickvals=top_y_ticks, anchor="x",
               ticklabelstandoff=8, **axis_common),
    xaxis2=dict(domain=[0, 1], range=[300, 362], tickvals=x_ticks, anchor="y2",
                ticklabelstandoff=2, **axis_common),
    yaxis2=dict(domain=[0, 0.4183], range=[-3, 2], tickvals=bottom_y_ticks,
                ticktext=bottom_y_labels, anchor="x2",
                ticklabelstandoff=8, **axis_common),
    legend=dict(x=0.9926, y=0.9866, xanchor="right", yanchor="top",
                bgcolor="white", bordercolor="black", borderwidth=1.5,
                font=dict(family=FONT, size=25, color="black"),
                itemwidth=88, tracegroupgap=0),
    legend2=dict(x=1.0, y=0.4012, xanchor="right", yanchor="top",
                 bgcolor="white", bordercolor="black", borderwidth=1.5,
                 font=dict(family=FONT, size=26, color="black"),
                 itemwidth=100),
    annotations=[
        dict(text="IWV comparison for LDB0 (absolute .vs. relative PCV)",
             xref="paper", yref="paper", x=0.5, y=1.0288, xanchor="center", yanchor="middle",
             showarrow=False, font=dict(family=FONT, size=25, color="black")),
        dict(text="IWV<sub>abs</sub> - IWV <sub>rel</sub>",
             xref="paper", yref="paper", x=0.5, y=0.459, xanchor="center", yanchor="middle",
             showarrow=False, font=dict(family=FONT, size=25, color="black")),
        dict(text="IWV in [mm]", textangle=-90,
             xref="paper", yref="paper", x=-0.0358, y=0.7908, xanchor="center", yanchor="middle",
             showarrow=False, font=dict(family=FONT, size=25, color="black")),
        dict(text="IWV difference in [mm]", textangle=-90,
             xref="paper", yref="paper", x=-0.0358, y=0.2092, xanchor="center", yanchor="middle",
             showarrow=False, font=dict(family=FONT, size=25, color="black")),
        dict(text="day in 2008",
             xref="paper", yref="paper", x=0.5, y=-0.0556, xanchor="center", yanchor="middle",
             showarrow=False, font=dict(family=FONT, size=25, color="black")),
    ],
)

fig.write_html("out.html", config={"displayModeBar": False})
